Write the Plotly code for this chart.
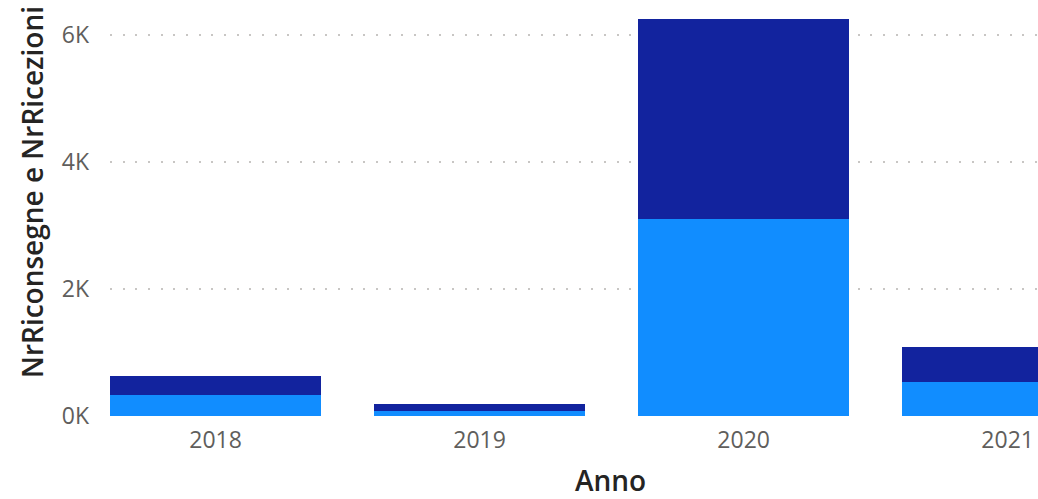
import plotly.graph_objects as go

years = ["2018", "2019", "2020", "2021"]
nr_ricezioni = [330, 80, 3095, 530]      # light blue (bottom)
nr_riconsegne = [300, 110, 3165, 550]    # dark blue (top)
tick_vals = [0, 2000, 4000, 6000]
tick_text = ["0K", "2K", "4K", "6K"]

fig = go.Figure()
fig.add_trace(go.Bar(x=years, y=nr_ricezioni, name="NrRicezioni",
                     marker=dict(color="#118DFF", line=dict(width=0))))
fig.add_trace(go.Bar(x=years, y=nr_riconsegne, name="NrRiconsegne",
                     marker=dict(color="#12239E", line=dict(width=0))))

font_family = "Segoe UI, Open Sans, Noto Sans, sans-serif"
W, H = 1038, 499
pl, pr, pt, pb = 110, 0, 10, 83
fig.update_layout(
    barmode="stack",
    bargap=0.2,
    width=W, height=H,
    margin=dict(l=pl, r=pr, t=pt, b=pb, autoexpand=False),
    plot_bgcolor="white", paper_bgcolor="white",
    showlegend=False,
    font=dict(family=font_family),
    xaxis=dict(
        type="category",
        range=[-0.4, 3.115],
        showgrid=False, zeroline=False, showline=False,
        tickfont=dict(size=23, color="#605E5C"),
        ticks="", ticklabelstandoff=8,
    ),
    yaxis=dict(
        range=[0, 6394],
        tickvals=tick_vals, ticktext=tick_text,
        showgrid=True, gridcolor="#C8C6C4", griddash="2px,10.67px", gridwidth=2,
        zeroline=False, showline=False,
        tickfont=dict(size=23, color="#605E5C"),
        ticks="", ticklabelstandoff=20,
    ),
    annotations=[
        dict(text="NrRiconsegne e NrRicezioni", textangle=-90,
             x=32, y=192, xref="paper", yref="paper", showarrow=False,
             font=dict(size=28, color="#252423", family=font_family, weight=600)),
        dict(text="Anno", x=610, y=480, xref="paper", yref="paper", showarrow=False,
             font=dict(size=28, color="#252423", family=font_family, weight=600)),
    ],
)
# convert pixel positions of annotations to paper coordinates
pw, ph = W - pl - pr, H - pt - pb
anns = list(fig.layout.annotations)
for a in anns:
    a.x = (a.x - pl) / pw
    a.y = (H - a.y - pb) / ph
    a.xanchor = "center"
    a.yanchor = "middle"
fig.layout.annotations = anns

fig.write_html("out.html",
               config={"displayModeBar": False},
               post_script="document.body.style.margin='0';document.body.style.padding='0';")
